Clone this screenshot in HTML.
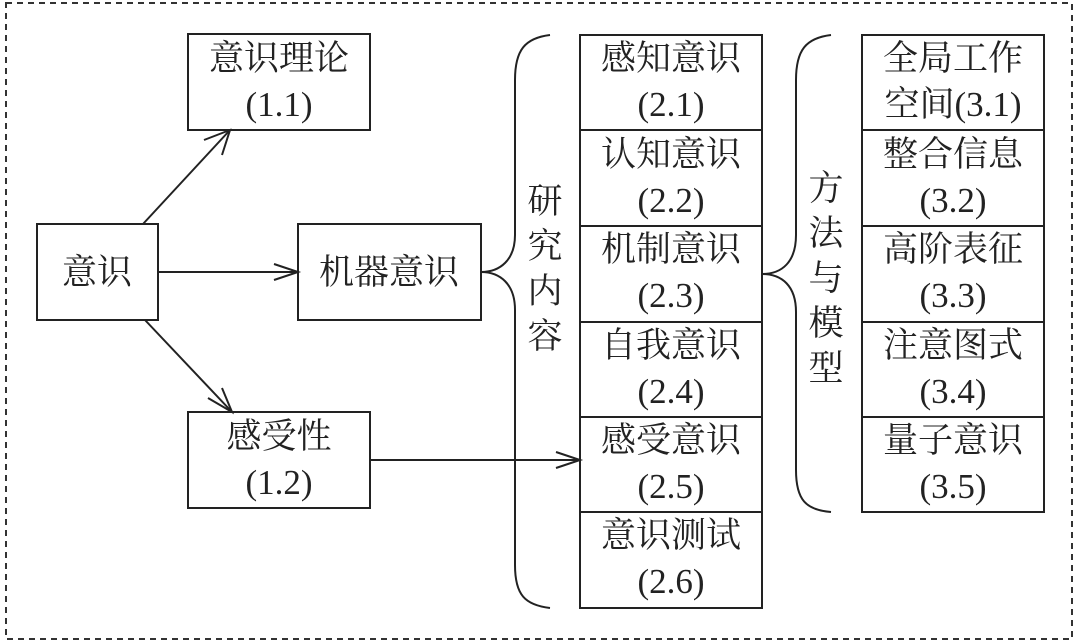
<!DOCTYPE html>
<html><head><meta charset="utf-8"><style>
html,body{margin:0;padding:0;background:#fff;}
svg{display:block;}
text{font-family:"Liberation Serif","Noto Serif CJK SC",serif;font-size:35px;fill:#222;text-anchor:middle;}
</style></head><body>
<svg width="1080" height="643" viewBox="0 0 1080 643" xmlns="http://www.w3.org/2000/svg">
<rect x="6" y="3" width="1066" height="636" fill="none" stroke="#333" stroke-width="2" stroke-dasharray="6,5"/>
<g fill="none" stroke="#222" stroke-width="2">
<rect x="188" y="34" width="182" height="96"/>
<rect x="37" y="224" width="121" height="96"/>
<rect x="298" y="224" width="183" height="96"/>
<rect x="188" y="412" width="182" height="96"/>
<rect x="580" y="35" width="182" height="573"/>
<line x1="580" y1="130" x2="762" y2="130"/>
<line x1="580" y1="226" x2="762" y2="226"/>
<line x1="580" y1="322" x2="762" y2="322"/>
<line x1="580" y1="417" x2="762" y2="417"/>
<line x1="580" y1="512" x2="762" y2="512"/>
<rect x="862" y="35" width="182" height="477"/>
<line x1="862" y1="130" x2="1044" y2="130"/>
<line x1="862" y1="226" x2="1044" y2="226"/>
<line x1="862" y1="322" x2="1044" y2="322"/>
<line x1="862" y1="417" x2="1044" y2="417"/>
<!-- arrows -->
<line x1="143" y1="224" x2="230" y2="130"/>
<polyline points="204,140 230,130 222,155"/>
<line x1="158" y1="272" x2="298" y2="272"/>
<polyline points="274,264 298,272 274,280"/>
<line x1="145" y1="320" x2="232" y2="412"/>
<polyline points="208,398 232,412 222,388"/>
<line x1="370" y1="460" x2="580" y2="460"/>
<polyline points="556,452 580,460 556,468"/>
<!-- braces -->
<path d="M550,35 C525,38 515,50 515,80 L515,235 C515,260 500,272 481,272 C500,272 515,284 515,310 L515,565 C515,595 525,605 550,608"/>
<path d="M831,35 C806,38 796,50 796,80 L796,235 C796,262 782,274 762,274 C782,274 796,286 796,312 L796,470 C796,500 806,510 831,512"/>
</g>
<text x="279" y="70">意识理论</text><text x="279" y="116">(1.1)</text>
<text x="97" y="284">意识</text>
<text x="389" y="284">机器意识</text>
<text x="279" y="448">感受性</text><text x="279" y="494">(1.2)</text>
<g>
<text x="671" y="70">感知意识</text><text x="671" y="116">(2.1)</text>
<text x="671" y="166">认知意识</text><text x="671" y="212">(2.2)</text>
<text x="671" y="261">机制意识</text><text x="671" y="307">(2.3)</text>
<text x="671" y="357">自我意识</text><text x="671" y="403">(2.4)</text>
<text x="671" y="452">感受意识</text><text x="671" y="498">(2.5)</text>
<text x="671" y="547">意识测试</text><text x="671" y="593">(2.6)</text>
</g>
<g>
<text x="953" y="70">全局工作</text><text x="953" y="116">空间(3.1)</text>
<text x="953" y="166">整合信息</text><text x="953" y="212">(3.2)</text>
<text x="953" y="261">高阶表征</text><text x="953" y="307">(3.3)</text>
<text x="953" y="357">注意图式</text><text x="953" y="403">(3.4)</text>
<text x="953" y="452">量子意识</text><text x="953" y="498">(3.5)</text>
</g>
<text x="545" y="213">研</text><text x="545" y="258">究</text><text x="545" y="303">内</text><text x="545" y="348">容</text>
<text x="826" y="200">方</text><text x="826" y="245">法</text><text x="826" y="290">与</text><text x="826" y="335">模</text><text x="826" y="380">型</text>
</svg>
</body></html>
